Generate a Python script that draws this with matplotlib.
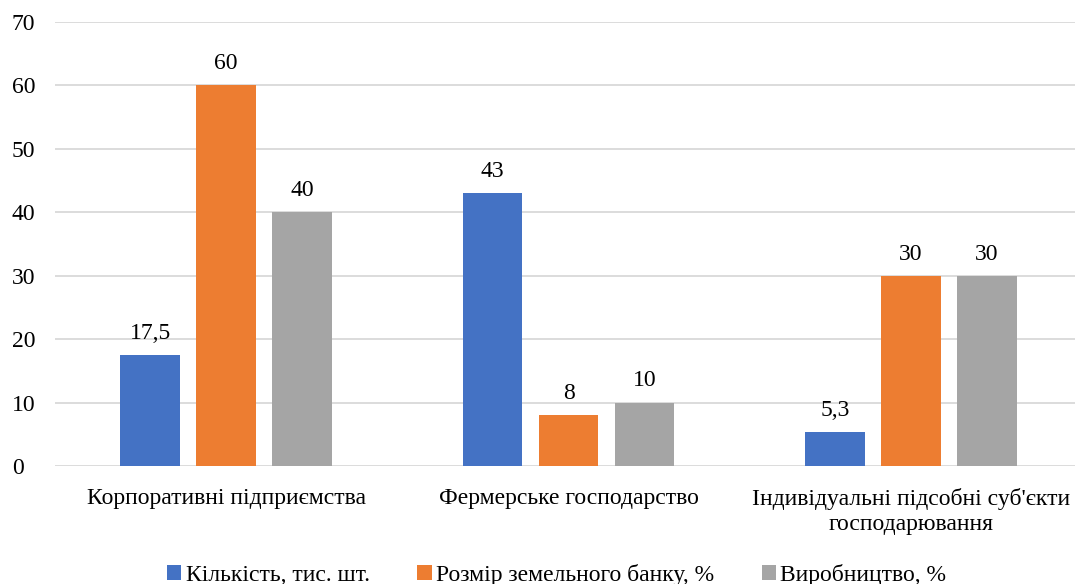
import numpy as np
import matplotlib.pyplot as plt

plt.rcParams['font.family'] = ['Liberation Serif', 'DejaVu Serif']

categories = ["Корпоративні підприємства", "Фермерське господарство",
              "Індивідуальні підсобні суб'єкти\nгосподарювання"]
series_names = ["Кількість, тис. шт.", "Розмір земельного банку, %", "Виробництво, %"]
kilkist = [17.5, 43, 5.3]
zemlia = [60, 8, 30]
vyrobnytstvo = [40, 10, 30]
colors = ["#4472C4", "#ED7D31", "#A5A5A5"]

fig = plt.figure(figsize=(10.75, 5.84), dpi=100)
ax = fig.add_axes([55 / 1075, 1 - 466 / 584, 1027 / 1075, 444 / 584])

x = np.arange(len(categories))
w = 0.175
step = 0.222
for i, (vals, name, c) in enumerate(zip([kilkist, zemlia, vyrobnytstvo], series_names, colors)):
    pos = x + (i - 1) * step
    bars = ax.bar(pos, vals, width=w, color=c, label=name, zorder=3)
    for b, v in zip(bars, vals):
        txt = f"{v:g}".replace(".", ",")
        ax.annotate(txt, (b.get_x() + b.get_width() / 2, v), xytext=(0, 8),
                    textcoords="offset points", ha="center", va="bottom", fontsize=17)

ax.set_xlim(-0.5, 2.5)
ax.set_ylim(0, 70)
ax.set_yticks(range(0, 71, 10))
ax.grid(axis="y", color="#D9D9D9", linewidth=1.3, zorder=0)
for s in ax.spines.values():
    s.set_visible(False)
ax.tick_params(length=0, labelsize=17)
ax.tick_params(axis="x", pad=16)
ax.tick_params(axis="y", pad=31)
ax.set_yticklabels([str(t) for t in range(0, 71, 10)], ha="left")
ax.set_xticks(x)
ax.set_xticklabels(categories, fontsize=17, linespacing=1.25)

fig.legend(loc="lower center", bbox_to_anchor=(0.518, -0.04), ncol=3, frameon=False,
           fontsize=17, handlelength=0.6, handleheight=0.6, handletextpad=0.2,
           columnspacing=2.0)

fig.savefig("out.png", dpi=100)
